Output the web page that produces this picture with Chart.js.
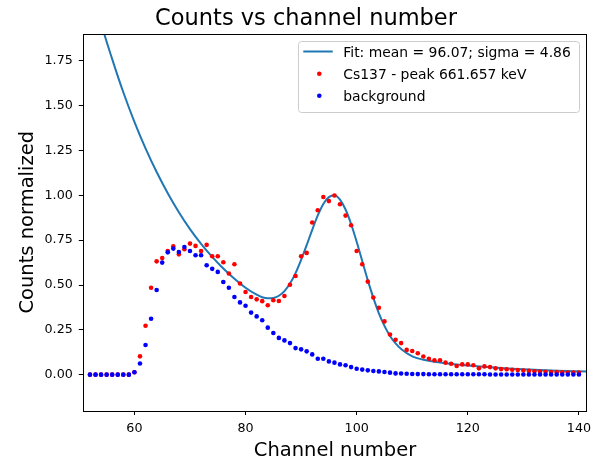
<!DOCTYPE html>
<html>
<head>
<meta charset="utf-8">
<script src="https://cdn.jsdelivr.net/npm/chart.js@4/dist/chart.umd.min.js"></script>
<style>
  html, body { margin: 0; padding: 0; background: #fff; }
  #wrap { width: 603px; height: 461px; }
</style>
</head>
<body>
<div id="wrap"><canvas id="c" width="603" height="461"></canvas></div>
<script>
// Channel numbers of the measured spectrum
const channels = [
  52, 53, 54, 55, 56, 57, 58, 59, 60, 61, 62, 63, 64, 65, 66, 67, 68, 69, 70, 71,
  72, 73, 74, 75, 76, 77, 78, 79, 80, 81, 82, 83, 84, 85, 86, 87, 88, 89, 90, 91,
  92, 93, 94, 95, 96, 97, 98, 99, 100, 101, 102, 103, 104, 105, 106, 107, 108, 109, 110, 111,
  112, 113, 114, 115, 116, 117, 118, 119, 120, 121, 122, 123, 124, 125, 126, 127, 128, 129, 130, 131,
  132, 133, 134, 135, 136, 137, 138, 139, 140
];

// Cs137 source, normalized counts per channel
const cs137Counts = [
  0, 0, 0, 0, 0, 0, 0, 0, 0.013, 0.102, 0.273, 0.485, 0.632, 0.650, 0.690, 0.716, 0.671, 0.699, 0.731, 0.718,
  0.690, 0.724, 0.660, 0.660, 0.627, 0.564, 0.616, 0.508, 0.461, 0.433, 0.420, 0.410, 0.387, 0.415, 0.411, 0.439, 0.501, 0.550, 0.660, 0.679,
  0.849, 0.917, 0.991, 0.968, 0.999, 0.950, 0.887, 0.833, 0.690, 0.616, 0.519, 0.430, 0.373, 0.297, 0.224, 0.195, 0.176, 0.138, 0.132, 0.119,
  0.101, 0.089, 0.080, 0.080, 0.067, 0.061, 0.048, 0.057, 0.057, 0.052, 0.035, 0.046, 0.042, 0.035, 0.031, 0.030, 0.027, 0.026, 0.023, 0.021,
  0.019, 0.017, 0.016, 0.015, 0.014, 0.013, 0.012, 0.012, 0.011
];

// Background run, normalized counts per channel
const backgroundCounts = [
  0, 0, 0, 0, 0, 0, 0, 0, 0.013, 0.062, 0.165, 0.312, 0.472, 0.625, 0.682, 0.703, 0.684, 0.712, 0.690, 0.666,
  0.666, 0.610, 0.590, 0.573, 0.517, 0.485, 0.433, 0.403, 0.384, 0.346, 0.325, 0.303, 0.262, 0.232, 0.205, 0.191, 0.176, 0.148, 0.141, 0.130,
  0.113, 0.089, 0.089, 0.074, 0.067, 0.057, 0.052, 0.042, 0.033, 0.028, 0.024, 0.020, 0.018, 0.015, 0.011, 0.007, 0.006, 0.005, 0.004, 0.003,
  0.003, 0.002, 0.002, 0.002, 0.002, 0.002, 0.002, 0.002, 0.002, 0.002, 0.002, 0.002, 0.001, 0.001, 0.001, 0.001, 0.001, 0.001, 0.001, 0.001,
  0.001, 0.001, 0.001, 0.001, 0.001, 0.001, 0.001, 0.001, 0.001
];

// Fitted curve (peak + falling background), sampled along the channel axis
const fitChannels = [
  51, 52, 54, 56, 58, 60, 62, 64, 66, 68, 70, 72, 74, 76, 78, 80, 82, 83, 84, 85,
  86, 87, 88, 89, 90, 91, 92, 93, 94, 95, 96, 97, 98, 99, 100, 101, 102, 103, 104, 105,
  106, 107, 108, 110, 112, 114, 116, 118, 120, 124, 128, 132, 136, 141.4
];
const fitValues = [
  2.33, 2.20, 1.96, 1.76, 1.575, 1.41, 1.262, 1.13, 1.012, 0.906, 0.812, 0.730, 0.657, 0.592, 0.535, 0.485, 0.446, 0.432, 0.426, 0.428,
  0.440, 0.466, 0.508, 0.566, 0.640, 0.722, 0.808, 0.888, 0.952, 0.990, 1.000, 0.976, 0.921, 0.840, 0.741, 0.634, 0.527, 0.428, 0.342, 0.272,
  0.216, 0.174, 0.143, 0.102, 0.083, 0.072, 0.064, 0.057, 0.051, 0.041, 0.033, 0.027, 0.022, 0.017
];

const xTickValues = [60, 80, 100, 120, 140];
const yTickValues = [0, 0.25, 0.5, 0.75, 1.0, 1.25, 1.5, 1.75];

const FONT = "'DejaVu Sans', sans-serif";
const C_FIT = '#1f77b4';
const C_CS = '#ff0000';
const C_BG = '#0000ff';

const toPoints = (xs, ys) => xs.map((x, i) => ({ x: x, y: ys[i] }));

// Frame, title, axis titles and legend box drawn on top of the chart
const decorations = {
  id: 'decorations',
  afterDraw(chart) {
    const ctx = chart.ctx;
    const a = chart.chartArea;
    ctx.save();

    // axes frame
    ctx.strokeStyle = '#000';
    ctx.lineWidth = 1;
    ctx.strokeRect(Math.round(a.left) + 0.5, Math.round(a.top) + 0.5,
                   Math.round(a.right - a.left), Math.round(a.bottom - a.top));

    const cx = (a.left + a.right) / 2;
    ctx.fillStyle = '#000';
    ctx.textAlign = 'center';
    ctx.textBaseline = 'alphabetic';

    // figure title, centred on the canvas
    ctx.font = '22.5px ' + FONT;
    ctx.fillText('Counts vs channel number', 306, 25);

    ctx.font = '19.5px ' + FONT;
    ctx.fillText('Channel number', cx, 456);

    ctx.save();
    ctx.translate(33.3, (a.top + a.bottom) / 2);
    ctx.rotate(-Math.PI / 2);
    ctx.fillText('Counts normalized', 0, 0);
    ctx.restore();

    // legend
    const bx = 298.5, by = 41.5, bw = 281, bh = 71;
    ctx.beginPath();
    ctx.roundRect(bx, by, bw, bh, 3);
    ctx.fillStyle = 'rgba(255,255,255,0.8)';
    ctx.fill();
    ctx.strokeStyle = '#cccccc';
    ctx.stroke();

    const ds = chart.data.datasets;
    const baselines = [56.5, 78.7, 100.7];
    ctx.font = '13.9px ' + FONT;
    ctx.textAlign = 'left';
    ds.forEach((d, i) => {
      const yb = baselines[i];
      const ym = yb - 5;
      if (d.showLine === false) {
        ctx.beginPath();
        ctx.arc(319.3, ym, 2.3, 0, Math.PI * 2);
        ctx.fillStyle = d.backgroundColor;
        ctx.fill();
      } else {
        ctx.beginPath();
        ctx.moveTo(303.3, ym);
        ctx.lineTo(332.7, ym);
        ctx.strokeStyle = d.borderColor;
        ctx.lineWidth = 2;
        ctx.stroke();
      }
      ctx.fillStyle = '#000';
      ctx.fillText(d.label, 343.3, yb);
    });

    ctx.restore();
  }
};

new Chart(document.getElementById('c'), {
  type: 'line',
  data: {
    datasets: [
      {
        label: 'Fit: mean = 96.07; sigma = 4.86',
        data: toPoints(fitChannels, fitValues),
        borderColor: C_FIT,
        backgroundColor: C_FIT,
        borderWidth: 2,
        pointRadius: 0,
        cubicInterpolationMode: 'monotone',
        fill: false,
        order: 3
      },
      {
        label: 'Cs137 - peak 661.657 keV',
        data: toPoints(channels, cs137Counts),
        showLine: false,
        backgroundColor: C_CS,
        borderColor: C_CS,
        pointRadius: 2.3,
        pointBorderWidth: 0,
        order: 2
      },
      {
        label: 'background',
        data: toPoints(channels, backgroundCounts),
        showLine: false,
        backgroundColor: C_BG,
        borderColor: C_BG,
        pointRadius: 2.3,
        pointBorderWidth: 0,
        order: 1
      }
    ]
  },
  options: {
    responsive: false,
    animation: false,
    events: [],
    layout: { padding: { top: 34, right: 16.3, bottom: 0, left: 0 } },
    plugins: {
      legend: { display: false },
      title: { display: false },
      tooltip: { enabled: false }
    },
    scales: {
      x: {
        type: 'linear',
        min: 50.8,
        max: 141.4,
        afterFit: (s) => { s.height = 50.5; },
        afterBuildTicks: (s) => { s.ticks = xTickValues.map(v => ({ value: v })); },
        border: { display: false },
        grid: { drawOnChartArea: false, drawTicks: true, tickLength: 4.5, color: '#000', lineWidth: 1 },
        ticks: {
          color: '#000',
          font: { family: FONT, size: 12.7 },
          padding: 6,
          maxRotation: 0,
          callback: (v) => String(v)
        }
      },
      y: {
        type: 'linear',
        min: -0.2,
        max: 1.9,
        afterFit: (s) => { s.width = 83.3; },
        afterBuildTicks: (s) => { s.ticks = yTickValues.map(v => ({ value: v })); },
        border: { display: false },
        grid: { drawOnChartArea: false, drawTicks: true, tickLength: 4.5, color: '#000', lineWidth: 1 },
        ticks: {
          color: '#000',
          font: { family: FONT, size: 12.7 },
          padding: 6,
          callback: (v) => Number(v).toFixed(2)
        }
      }
    }
  },
  plugins: [decorations]
});
</script>
</body>
</html>
